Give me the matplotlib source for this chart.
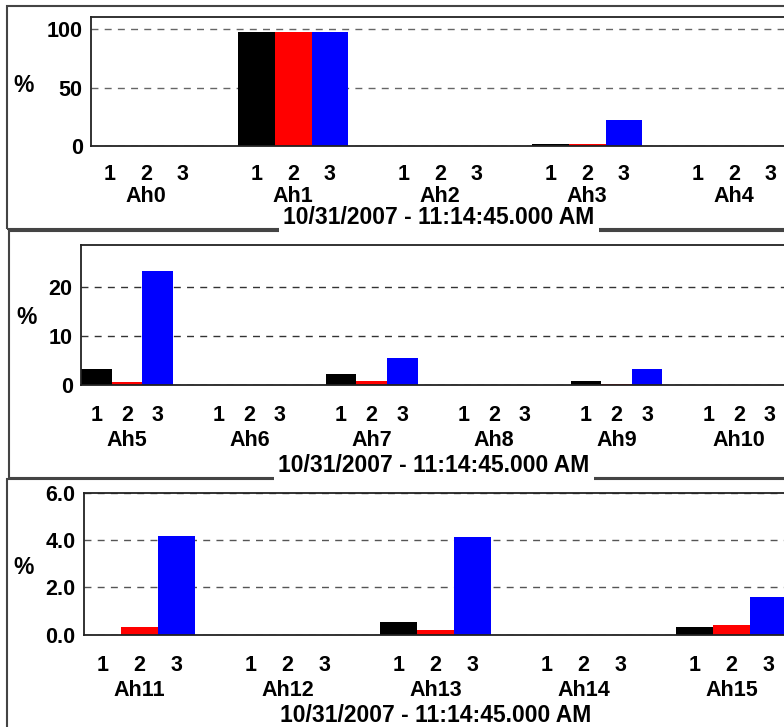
import matplotlib
matplotlib.use("Agg")
import matplotlib.pyplot as plt
from matplotlib.patches import Rectangle

plt.rcParams['font.family'] = ['Liberation Sans', 'DejaVu Sans']
plt.rcParams['font.weight'] = 'bold'

# ---- data ----
phase_labels = ['1', '2', '3']
series_colors = ['#000000', '#ff0000', '#0000ff']
date_label = '10/31/2007 - 11:14:45.000 AM'

groups1 = ['Ah0', 'Ah1', 'Ah2', 'Ah3', 'Ah4']
phase1_1 = [0.0, 97.8, 0.0, 1.7, 0.0]
phase2_1 = [0.0, 97.8, 0.0, 1.4, 0.0]
phase3_1 = [0.0, 97.8, 0.0, 22.3, 0.0]
yticks1 = [0, 50, 100]
yticklabels1 = ['0', '50', '100']

groups2 = ['Ah5', 'Ah6', 'Ah7', 'Ah8', 'Ah9', 'Ah10']
phase1_2 = [3.3, 0.0, 2.3, 0.0, 0.9, 0.0]
phase2_2 = [0.7, 0.0, 0.9, 0.0, 0.3, 0.0]
phase3_2 = [23.3, 0.0, 5.6, 0.0, 3.3, 0.0]
yticks2 = [0, 10, 20]
yticklabels2 = ['0', '10', '20']

groups3 = ['Ah11', 'Ah12', 'Ah13', 'Ah14', 'Ah15']
phase1_3 = [0.0, 0.0, 0.54, 0.0, 0.33]
phase2_3 = [0.34, 0.0, 0.2, 0.0, 0.41]
phase3_3 = [4.2, 0.0, 4.12, 0.0, 1.6]
yticks3 = [0.0, 2.0, 4.0, 6.0]
yticklabels3 = ['0.0', '2.0', '4.0', '6.0']

W, H = 784, 727
fig = plt.figure(figsize=(W / 100, H / 100), dpi=100)

panels = [
    dict(groups=groups1, vals=[phase1_1, phase2_1, phase3_1], yt=yticks1, ytl=yticklabels1, ymax=110.6,
         L=91, B=146, T=17, unit=36.75, tick_y=172, grp_y=195, date=(439, 218), pct=(24, 85),
         box=(7, 6, 229), grid_color='#666666'),
    dict(groups=groups2, vals=[phase1_2, phase2_2, phase3_2], yt=yticks2, ytl=yticklabels2, ymax=28.6,
         L=81, B=385.3, T=245, unit=30.6, tick_y=413, grp_y=439, date=(434, 465), pct=(27, 317),
         box=(9, 231, 478), grid_color='#333333'),
    dict(groups=groups3, vals=[phase1_3, phase2_3, phase3_3], yt=yticks3, ytl=yticklabels3, ymax=6.0,
         L=84, B=634.7, T=493, unit=37.0, tick_y=663, grp_y=689, date=(436, 715), pct=(24, 567),
         box=(7, 479, 740), grid_color='#555555'),
]

for p in panels:
    bx, by0, by1 = p['box']
    fig.patches.append(Rectangle((bx / W, 1 - by1 / H), (W + 20 - bx) / W, (by1 - by0) / H,
                                 transform=fig.transFigure, fill=False, edgecolor='#444444',
                                 linewidth=1.5, zorder=0))

    L, B, T, unit = p['L'], p['B'], p['T'], p['unit']
    wpx = 810 - L
    hpx = B - T
    ax = fig.add_axes([L / W, 1 - B / H, wpx / W, hpx / H])
    ax.set_xlim(0, wpx / unit)
    ax.set_ylim(0, p['ymax'])
    ax.set_axisbelow(True)

    n = len(p['groups'])
    centers = []
    labels = []
    for j, (vals, col) in enumerate(zip(p['vals'], series_colors)):
        xs = [4 * g + j for g in range(n)]
        ax.bar(xs, vals, width=1.0, align='edge', color=col, linewidth=0, zorder=2)
    for g in range(n):
        for j in range(3):
            centers.append(4 * g + j + 0.5)
            labels.append(phase_labels[j])
    ax.set_xticks(centers)
    ax.set_xticklabels(labels, fontsize=15.5, fontweight='bold')
    ax.tick_params(axis='x', length=0, pad=(p['tick_y'] - B - 8) / 1.389)

    ax.set_yticks(p['yt'])
    ax.set_yticklabels(p['ytl'], fontsize=15.5, fontweight='bold')
    ax.tick_params(axis='y', length=0, pad=6.0)

    ax.yaxis.grid(True, linestyle=(0, (5, 4.5)), color=p['grid_color'], linewidth=1.0)
    ax.xaxis.grid(False)

    for s in ['left', 'bottom', 'top']:
        ax.spines[s].set_color('#222222')
        ax.spines[s].set_linewidth(1.3)
    ax.spines['right'].set_visible(False)

    trans = ax.get_xaxis_transform()
    for g, name in enumerate(p['groups']):
        ax.text(4 * g + 1.5, -(p['grp_y'] + 1 - B) / hpx, name, transform=trans,
                ha='center', va='center', fontsize=15.5, fontweight='bold', clip_on=False)

    dx, dy = p['date']
    fig.text(dx / W, 1 - dy / H, date_label, ha='center', va='center', fontsize=16.5,
             fontweight='bold', bbox=dict(facecolor='white', edgecolor='none', pad=3.0), zorder=5)
    px, py = p['pct']
    fig.text(px / W, 1 - py / H, '%', ha='center', va='center', fontsize=16.5, fontweight='bold')

fig.savefig('out.png', dpi=100)
